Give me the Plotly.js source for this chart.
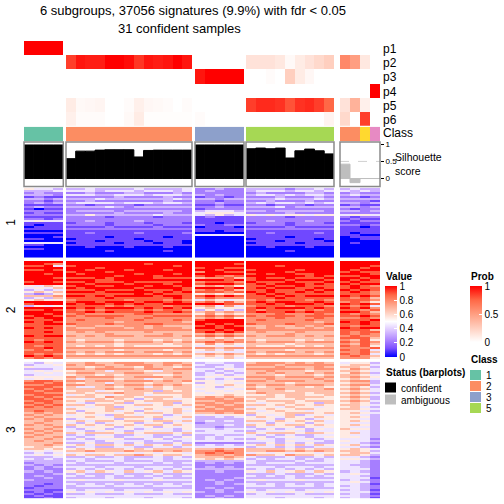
<!DOCTYPE html>
<html><head><meta charset="utf-8">
<script src="https://cdn.plot.ly/plotly-3.0.1.min.js"></script>
<style>html,body{margin:0;padding:0;background:#fff;}#chart{width:504px;height:504px;}</style>
</head><body><div id="chart"></div>
<script>
// ---------------- data ----------------
const groupSizes = [4, 13, 5, 9, 4];
const classes = [1,1,1,1, 2,2,2,2,2,2,2,2,2,2,2,2,2, 3,3,3,3,3, 5,5,5,5,5,5,5,5,5, 2,2,6,4];
const classLabels = ['1','2','3','5'];
const p1 = [1,1,1,1, 0,0,0,0,0,0,0,0,0,0,0,0,0, 0,0,0,0,0, 0,0,0,0,0,0,0,0,0, 0,0,0,0];
const p2 = [0,0,0,0, 0.85,0.95,0.93,0.93,1,1,0.97,0.87,0.95,0.93,0.95,1,0.95, 0,0,0,0,0, 0.15,0.15,0.15,0.12,0.03,0.1,0.15,0.2,0.25, 0.6,0.5,0.12,0];
const p3 = [0,0,0,0, 0,0,0,0,0,0,0,0,0,0,0,0,0, 0.95,1,1,1,1, 0,0,0.02,0,0.25,0.1,0.04,0,0, 0,0,0,0];
const p4 = [0,0,0,0, 0,0,0,0,0,0,0,0,0,0,0,0,0, 0,0,0,0,0, 0,0,0,0,0,0,0,0,0, 0,0,0,1];
const p5 = [0,0,0,0, 0.1,0.03,0.04,0.05,0,0,0.02,0.08,0.04,0.03,0.02,0,0.02, 0,0,0,0,0, 0.85,0.9,0.9,0.88,0.8,0.88,0.9,0.85,0.75, 0.15,0.4,0.08,0];
const p6 = [0,0,0,0, 0.08,0.02,0.02,0.02,0,0,0.03,0.1,0.01,0.01,0.01,0.01,0.01, 0.02,0,0,0,0, 0,0,0,0,0,0,0,0,0.06, 0.2,0,0.85,0];
const silhouette = [0.98,0.98,0.98,0.98, 0.58,0.8,0.8,0.83,0.84,0.84,0.84,0.63,0.82,0.83,0.83,0.83,0.83, 0.98,0.98,0.98,0.98,0.98, 0.87,0.89,0.87,0.89,0.6,0.81,0.86,0.81,0.72, 0.42,-0.12,0,0];
const confident = [1,1,1,1, 1,1,1,1,1,1,1,1,1,1,1,1,1, 1,1,1,1,1, 1,1,1,1,1,1,1,1,1, 0,0,0,0];
const rowSliceLabels = ['1','2','3'];

// heatmap rows: digit d -> d/9 ; groups separated by spaces
const slice1Rows = [
"5443 3343333433334 22322 333323343 3433",
"3334 4443444344434 23222 344434434 4343",
"2322 2232223322232 22222 232222332 2322",
"3332 4443344434443 32322 344343443 3433",
"1211 2222232222322 12212 222322232 2212",
"3323 3334333333343 33233 333433343 3333",
"2212 2232222222322 22122 223222322 2221",
"2323 3444434443443 22322 343443434 3323",
"1111 2212222122222 11211 221222122 1211",
"2322 3333432333333 22322 333423333 3323",
"1011 2222222222222 12222 222222222 2122",
"2222 2333323333332 34443 332333332 3323",
"1211 2222232222322 45554 222232222 2222",
"2222 3353333334333 43534 545455455 4554",
"1111 2222122221222 12111 222212222 2122",
"2212 2222222222222 11111 222222222 1211",
"4544 2232222322222 11111 223222322 2122",
"1111 1222122212221 11011 122212221 1111",
"1011 2222122221222 21122 222212222 2212",
"0111 1111211112111 01110 111121111 1101",
"1111 2222222222222 11111 222222222 1111",
"0000 1111111111111 11011 111111111 1111",
"1111 1121111211112 00000 112111121 1011",
"0000 1111111111111 44444 111111111 1100",
"0001 1111011111011 00000 111101111 0111",
"1100 0111111011111 00000 011111101 0011",
"0000 1110111101110 00000 111011110 0000",
"4444 0111101110110 00000 011110111 0100",
"1100 1111111111111 00000 111111111 0000",
"0000 0010001000100 00000 001000100 0000",
"1100 0000000000000 00000 000000000 0000",
"0000 0000100000100 00000 000010000 0000",
"0000 0000000000000 00000 000000000 0000",
"0000 0000000000000 00000 000000000 0000",
"0000 0000000000000 00000 000000000 0000"
];
const slice2Rows = [
"9999 9999999999999 99999 999999999 9999",
"9987 9999999989999 99998 999999999 9999",
"8894 8999999999989 99999 999899999 9998",
"9999 9998999999999 89988 999999999 9989",
"8898 9989998999899 99899 899998999 9899",
"9999 8999899999999 79988 999989999 8988",
"9989 9899999899989 99999 898998899 9998",
"9999 9999989998999 89878 999999898 8899",
"9998 8889899998888 67786 898898889 9989",
"9999 9998899999999 99989 899989998 9898",
"8998 8898889888889 78887 988898889 8988",
"9999 9989998999899 89998 898999898 9899",
"5465 8998899989989 67675 889889888 8987",
"4546 9899999899998 99989 898998898 8988",
"3434 8889888988898 78786 889888989 9898",
"5656 9998999998989 88878 989889898 8987",
"3235 8888888989888 56565 898988888 8887",
"6667 9989899998998 89898 889898999 9898",
"3436 8888988888898 78777 888988888 8786",
"5655 7888887888787 46545 787888787 8887",
"9999 8998999899898 78686 898998898 7875",
"8999 9899898988999 99988 889899989 9898",
"3545 8888787888788 67474 788878887 8784",
"9999 9898999898989 56555 898999898 9897",
"8898 8787888787887 35343 878887878 8878",
"9999 8898988898898 67676 898898988 9986",
"9989 7877777887777 57565 777877787 8787",
"8998 8788887778888 78787 878887888 8898",
"9899 7777877787777 67675 777877787 7787",
"8889 7877777877787 89999 787777877 8889",
"9898 7777767777776 99999 777777767 9898",
"8899 8777877788777 98989 877787778 8898",
"8888 6776667767666 89898 667667676 8788",
"9898 7667776767776 99899 767766767 9899",
"8888 7777777777777 88989 777777777 8886",
"8898 6767666676666 89898 676667666 8788",
"8888 6666766666766 67676 666676666 8787",
"9899 7676777677767 78787 767776767 7877",
"8888 6666666666666 56565 666666666 8886",
"8788 6566656665656 66767 656665656 7685",
"9898 7677767776767 78787 767776777 8787",
"8888 6666656666566 57565 666656666 7686",
"8788 6565656555556 45454 655565656 8785",
"8898 7777777777777 77677 777777777 7778",
"7878 6666656666566 56464 666656666 8784",
"8888 7676777677767 44544 767776767 7786",
"8787 6565656665656 67676 656566656 8784",
"9898 7777777777777 56565 777777777 7876",
"7878 6666666666666 45464 666666666 7775"
];
const slice3Rows = [
"4354 6676677766776 34433 677767676 4553",
"3445 7677667776767 43343 777677777 5664",
"5444 6656766576656 33443 666766676 6653",
"3334 7767777677677 44354 777777677 5764",
"4545 5666466654666 43434 667666566 6654",
"4454 6776667766676 34343 676766767 5763",
"3444 5665656665566 34534 666566656 6654",
"5555 7677766777676 45455 777677767 6765",
"4545 6466656645666 34343 667666676 5654",
"7887 7767767776767 55455 776777667 6773",
"8878 6566466656665 35454 666656666 5663",
"7788 7766767767676 55565 767767776 6774",
"8887 6446656646566 45345 656666565 5653",
"7878 6666766766566 55454 766766667 6764",
"8788 5664556663656 45545 566656666 5654",
"8877 6656676656666 54555 676666566 6763",
"7888 4565456645556 55565 556566556 5654",
"8787 6665766566656 67676 666566665 6763",
"8878 5546565356545 77767 565556555 5653",
"7887 6566656566665 66777 656665666 6764",
"8787 5435563545635 77676 545565536 5653",
"7878 6656655665656 67767 665656565 6654",
"8787 4545635455454 76777 455465545 5643",
"7777 6555665565565 67676 656556655 6654",
"7877 5355645354564 77777 545655455 5543",
"6767 6565556566565 66767 655566656 5654",
"7676 4554365455345 45455 354563454 5543",
"6766 5565466656456 33434 565465565 5653",
"7677 3455535543554 33333 545355345 5543",
"6676 5646656656646 34343 664656564 5653",
"6766 4353455345354 23333 453545354 5443",
"7676 6565656566565 33343 656566565 5653",
"6667 3545535453545 33233 354553545 5443",
"7676 4355345345435 44344 435345354 6553",
"6767 4434543454434 34443 344454344 5443",
"7676 6566656566656 44444 656665665 5643",
"6766 3434433443343 33433 434343344 5443",
"7667 4345534543435 34344 453454345 5543",
"6676 3534453345344 34343 354344534 4442",
"6766 4443544434434 44444 444354443 5443",
"6667 3353343533353 22222 335343533 4432",
"6676 5646656465646 34343 564656465 5643",
"5665 3443344334434 44444 344343344 4432",
"6656 5656665656666 66767 666656566 5654",
"4545 6676667667676 77877 667767676 6653",
"3434 4545545454554 78787 454545545 5664",
"4545 6566566765665 67767 766576656 6653",
"3334 3343343334343 66676 433343343 4432",
"4343 4434443444344 56565 343443434 5543",
"3333 3433343334333 33333 433334334 4432",
"2333 4344434443434 23232 434443444 4432",
"3232 3333333333333 22222 333333333 4332",
"2323 4443444344434 23232 444344434 4432",
"2322 3434343434343 33333 343434343 4442",
"3232 5646546456465 22322 546456465 3432",
"2223 3433343334333 22222 333433343 4542",
"2322 4343434343434 22222 434343434 4432",
"2232 3333433334333 22223 333343333 4441",
"3222 4544454445444 23232 454445444 3432",
"2222 3333333333333 22322 333333333 4542",
"2212 4343434343434 22323 434343434 4431",
"2122 3444344434443 22222 444344434 3432",
"1222 3333333333333 23232 333333333 4432",
"2211 4344434443444 22322 434443444 3431",
"1212 5454545454545 32323 545454545 4442",
"2121 3343334333433 22222 343334333 3431",
"1211 4444444444444 23232 444444444 4432",
"1121 3444344434443 22322 444344434 3431"
];

// ---------------- helpers ----------------
const FONT = 'Liberation Sans, Arial, Helvetica, sans-serif';
const W = 504;
const PX = v => v / W;
const PY = v => 1 - v / W;
const parseRows = rows => rows.map(r => r.replace(/ /g, '').split('').map(c => Number(c) / 9));
const slices = [parseRows(slice1Rows), parseRows(slice2Rows), parseRows(slice3Rows)];

const valueScale = [[0,'rgb(0,0,255)'],[0.125,'rgb(126,81,255)'],[0.25,'rgb(178,139,255)'],[0.375,'rgb(220,197,255)'],[0.5,'rgb(255,255,255)'],[0.625,'rgb(255,207,191)'],[0.75,'rgb(255,158,129)'],[0.875,'rgb(255,104,70)'],[1,'rgb(255,0,0)']];
const probScale = [[0,'rgb(255,255,255)'],[0.25,'rgb(255,207,191)'],[0.5,'rgb(255,158,129)'],[0.75,'rgb(255,104,70)'],[1,'rgb(255,0,0)']];
const classColors = {1:'#66C2A5',2:'#FC8D62',3:'#8DA0CB',4:'#E78AC3',5:'#A6D854',6:'#FFD92F'};
const classScale = [];
for (let k = 1; k <= 6; k++) {
  const lo = Math.max(0, (k - 1.5) / 5), hi = Math.min(1, (k - 0.5) / 5);
  classScale.push([lo, classColors[k]], [hi, classColors[k]]);
}

// layout geometry (pixels)
const groupX = [[24,63.3],[66,192],[195,244],[246,334],[340,380]];
const pRowsY = [41,125.7], classY = [126.7,141.3], silY = [142,186.5];
const sliceY = [[187.7,257.7],[261,359.3],[361.7,498.3]];

const traces = [];
const layout = {
  width: 504, height: 504, margin: {l:0,r:0,t:0,b:0},
  paper_bgcolor: '#fff', plot_bgcolor: '#fff', showlegend: false,
  font: {family: FONT, color: '#000'},
  shapes: [], annotations: []
};
const hiddenAxis = (domain, range, anchor) => ({domain, range, anchor, visible:false, showgrid:false, zeroline:false, fixedrange:true});

const xName = k => k === 0 ? 'x' : 'x' + (k + 1);
const axKey = n => n === 'x' ? 'xaxis' : 'xaxis' + n.slice(1);

let start = 0;
groupSizes.forEach((n, k) => {
  const xa = xName(k);
  layout[axKey(xa)] = hiddenAxis([PX(groupX[k][0]), PX(groupX[k][1])], [-0.5, n - 0.5], 'y');
  const cols = Array.from({length: n}, (_, i) => start + i);
  const idx = cols.map((_, i) => i);
  const pick = arr => cols.map(c => arr[c]);

  traces.push({type:'heatmap', xaxis: xa, yaxis:'y', z:[pick(p1),pick(p2),pick(p3),pick(p4),pick(p5),pick(p6)],
    zmin:0, zmax:1, colorscale: probScale, hoverinfo:'skip',
    showscale: k === 0,
    colorbar: {x: PX(470), xanchor:'left', y: PY(286), yanchor:'top', len: 56, lenmode:'pixels',
      thickness: 12, thicknessmode:'pixels', xpad:0, ypad:0, outlinewidth:0,
      tickvals:[0,0.5,1], ticktext:['0','0.5','1'], ticks:'inside', ticklen:3, tickcolor:'#fff',
      tickfont:{size:10, family:FONT}}});

  traces.push({type:'heatmap', xaxis: xa, yaxis:'y2', z:[pick(classes)], zmin:1, zmax:6,
    colorscale: classScale, showscale:false, hoverinfo:'skip'});

  const barCols = pick(confident).map(c => c ? '#000000' : '#BEBEBE');
  traces.push({type:'bar', xaxis: xa, yaxis:'y3', x: idx, y: pick(silhouette), width: 1,
    marker:{color: barCols, line:{width:1, color: barCols}}, hoverinfo:'skip'});

  slices.forEach((rows, s) => {
    traces.push({type:'heatmap', xaxis: xa, yaxis: 'y' + (4 + s),
      z: rows.map(r => cols.map(c => r[c])), zmin:0, zmax:1, colorscale: valueScale, hoverinfo:'skip',
      showscale: k === 0 && s === 0,
      colorbar: {x: PX(385), xanchor:'left', y: PY(286), yanchor:'top', len: 71, lenmode:'pixels',
        thickness: 12, thicknessmode:'pixels', xpad:0, ypad:0, outlinewidth:0,
        tickvals:[0,0.2,0.4,0.6,0.8,1], ticktext:['0','0.2','0.4','0.6','0.8','1'],
        ticks:'inside', ticklen:3, tickcolor:'#fff', tickfont:{size:10, family:FONT}}});
  });

  // silhouette box
  layout.shapes.push({type:'rect', xref: xa + ' domain', yref:'y3 domain', x0:0, x1:1, y0:0, y1:1,
    line:{color:'#8a8a8a', width:1.5}, fillcolor:'rgba(0,0,0,0)', layer:'above'});
  layout.shapes.push({type:'line', xref: xa + ' domain', yref:'y3', x0:0, x1:1, y0:0.5, y1:0.5,
    line:{color:'#d0d0d0', width:1, dash:'dash'}, layer:'below'});
  start += n;
});

const yDom = r => [PY(r[1]), PY(r[0])];
layout.yaxis = hiddenAxis(yDom(pRowsY), [5.5, -0.5], 'x');
layout.yaxis2 = hiddenAxis(yDom(classY), [0.5, -0.5], 'x');
layout.yaxis3 = {domain: yDom(silY), range: [-0.233, 1.067], anchor:'x5', side:'right',
  showgrid:false, zeroline:false, showline:false, ticks:'outside', ticklen:3, tickwidth:1, tickcolor:'#000',
  tickvals:[0,0.5,1], ticktext:['0','0.5','1'], tickfont:{size:8, family:FONT}, fixedrange:true};
slices.forEach((rows, s) => {
  layout['yaxis' + (4 + s)] = hiddenAxis(yDom(sliceY[s]), [rows.length - 0.5, -0.5], 'x');
});

// ---------------- text ----------------
const ann = (text, x, y, o = {}) => Object.assign({text, xref:'paper', yref:'paper', x: PX(x), y: PY(y),
  showarrow:false, xanchor:'left', yanchor:'middle', font:{size:12, family:FONT, color:'#000'}}, o);
layout.annotations.push(ann('6 subgroups, 37056 signatures (9.9%) with fdr &lt; 0.05', 193, 10, {xanchor:'center', font:{size:13, family:FONT}}));
layout.annotations.push(ann('31 confident samples', 179, 28, {xanchor:'center', font:{size:13, family:FONT}}));
['p1','p2','p3','p4','p5','p6','Class'].forEach((t, i) => {
  const yc = [49,63,77,91.5,105.5,119.5,133.5][i];
  layout.annotations.push(ann(t, 381, yc, {font:{size:12, family:FONT}}));
});
layout.annotations.push(ann('Silhouette<br>score', 393, 164.5, {align:'left', font:{size:10.5, family:FONT}}));
rowSliceLabels.forEach((t, s) => {
  const yc = (sliceY[s][0] + sliceY[s][1]) / 2;
  layout.annotations.push(ann(t, 11, yc, {xanchor:'center', textangle:-90, font:{size:12, family:FONT}}));
});
// legend titles and labels
layout.annotations.push(ann('<b>Value</b>', 384, 276, {font:{size:10, family:FONT}}));
layout.annotations.push(ann('<b>Prob</b>', 469, 276, {font:{size:10, family:FONT}}));
layout.annotations.push(ann('<b>Class</b>', 469, 359.5, {font:{size:10, family:FONT}}));
layout.annotations.push(ann('<b>Status (barplots)</b>', 384, 372.5, {font:{size:10, family:FONT}}));
layout.annotations.push(ann('confident', 399, 388, {font:{size:10, family:FONT}}));
layout.annotations.push(ann('ambiguous', 399, 400, {font:{size:10, family:FONT}}));
const classKeys = [1,2,3,5];
classKeys.forEach((c, i) => {
  const y0 = 370 + i * 11;
  layout.shapes.push({type:'rect', xref:'paper', yref:'paper', x0:PX(470), x1:PX(481), y0:PY(y0 + 10), y1:PY(y0),
    fillcolor: classColors[c], line:{width:0}});
  layout.annotations.push(ann(classLabels[i], 484, y0 + 5, {font:{size:10, family:FONT}}));
});
[['#000000',382.5],['#BEBEBE',394.5]].forEach(([col, y0]) => {
  layout.shapes.push({type:'rect', xref:'paper', yref:'paper', x0:PX(385), x1:PX(396), y0:PY(y0 + 10), y1:PY(y0),
    fillcolor: col, line:{width:0}});
});

Plotly.newPlot('chart', traces, layout, {displayModeBar:false, staticPlot:true});
</script>
</body></html>
